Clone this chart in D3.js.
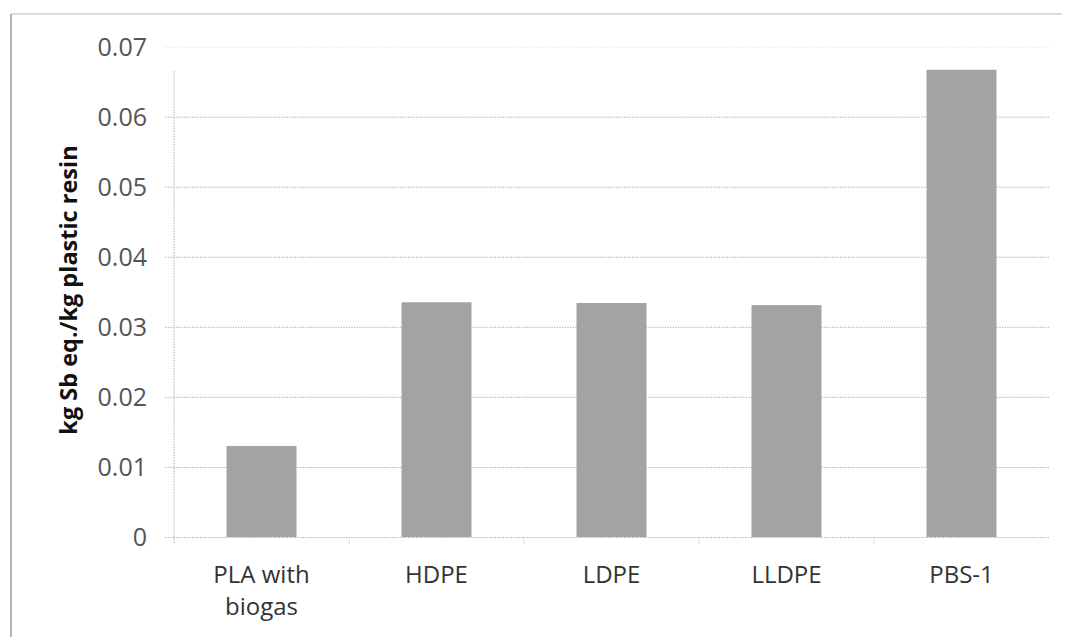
<!DOCTYPE html>
<html>
<head>
<meta charset="utf-8">
<script src="https://cdn.jsdelivr.net/npm/d3@7"></script>
<style>
  html, body { margin: 0; padding: 0; background: #fff; }
  svg { display: block; }
</style>
</head>
<body>
<svg id="chart" width="1067" height="637"></svg>
<script>
// Abiotic depletion per kg of plastic resin
const categories = ["PLA with\nbiogas", "HDPE", "LDPE", "LLDPE", "PBS-1"];
const values = [0.0130, 0.0335, 0.0334, 0.0331, 0.0667];
const yTicks = [0, 0.01, 0.02, 0.03, 0.04, 0.05, 0.06, 0.07];
const yTitle = "kg Sb eq./kg plastic resin";

const W = 1067, H = 637;
const plot = { left: 174, right: 1049, top: 46.6, bottom: 537 };
const font = "'Open Sans', 'Noto Sans', sans-serif";

const svg = d3.select("#chart");

// Chart-area frame (left and top edges)
svg.append("line").attr("x1", 11).attr("x2", 11).attr("y1", 14).attr("y2", H)
  .attr("stroke", "#9a9a9a").attr("stroke-width", 1.5);
svg.append("line").attr("x1", 11).attr("x2", 1062).attr("y1", 14).attr("y2", 14)
  .attr("stroke", "#b8b8b8").attr("stroke-width", 1.2);

const x = d3.scaleBand()
  .domain(categories)
  .range([plot.left, plot.right])
  .paddingInner(0.6)
  .paddingOuter(0.3);

const y = d3.scaleLinear()
  .domain([0, 0.07])
  .range([plot.bottom, plot.top]);

// Horizontal gridlines with left tick marks
const yAxis = d3.axisLeft(y)
  .tickValues(yTicks)
  .tickFormat(d => d === 0 ? "0" : d3.format(".2f")(d))
  .tickSize(-(plot.right - plot.left))
  .tickPadding(0);

const gy = svg.append("g")
  .attr("transform", `translate(${plot.left},0)`)
  .call(yAxis);
gy.select(".domain").remove();
gy.selectAll(".tick line")
  .attr("x1", -9)
  .attr("stroke", (d) => d === 0.07 ? "#e6e6e6" : "#b4b4b4")
  .attr("stroke-width", 1)
  .attr("stroke-dasharray", "1.5,1.2");
gy.selectAll(".tick text")
  .attr("x", -27)
  .attr("dy", "0.35em")
  .attr("fill", "#555")
  .style("font-family", font)
  .style("font-size", "25px")
  .attr("text-anchor", "end");

// Vertical value axis line
svg.append("line")
  .attr("x1", plot.left).attr("x2", plot.left)
  .attr("y1", y(0.0665)).attr("y2", plot.bottom + 7)
  .attr("stroke", "#b4b4b4")
  .attr("stroke-dasharray", "1.5,1.2");

// Category boundary tick marks below the baseline
const step = x.step();
const boundaries = categories.slice(0, -1).map(c => x(c) + x.bandwidth() / 2 + step / 2);
svg.append("g").selectAll("line")
  .data(boundaries)
  .join("line")
  .attr("x1", d => d).attr("x2", d => d)
  .attr("y1", plot.bottom).attr("y2", plot.bottom + 8)
  .attr("stroke", "#c4c4c4")
  .attr("stroke-dasharray", "1.5,1.2");

// Bars
svg.append("g").selectAll("rect")
  .data(categories.map((c, i) => ({ c, v: values[i] })))
  .join("rect")
  .attr("x", d => x(d.c))
  .attr("width", x.bandwidth())
  .attr("y", d => y(d.v))
  .attr("height", d => y(0) - y(d.v))
  .attr("fill", "#a3a3a3");

// Category labels (may wrap onto two lines)
const xl = svg.append("g").selectAll("text")
  .data(categories)
  .join("text")
  .attr("x", d => x(d) + x.bandwidth() / 2)
  .attr("y", 583)
  .attr("text-anchor", "middle")
  .attr("fill", "#333")
  .style("font-family", font)
  .style("font-size", "24px");
xl.each(function (d) {
  const t = d3.select(this);
  d.split("\n").forEach((line, i) => {
    t.append("tspan")
      .attr("x", x(d) + x.bandwidth() / 2)
      .attr("dy", i === 0 ? 0 : 32)
      .text(line);
  });
});

// Value axis title
svg.append("text")
  .attr("transform", `translate(77, 290) rotate(-90)`)
  .attr("text-anchor", "middle")
  .attr("fill", "#111")
  .style("font-family", font)
  .style("font-weight", "bold")
  .style("font-size", "23.5px")
  .text(yTitle);
</script>
</body>
</html>
